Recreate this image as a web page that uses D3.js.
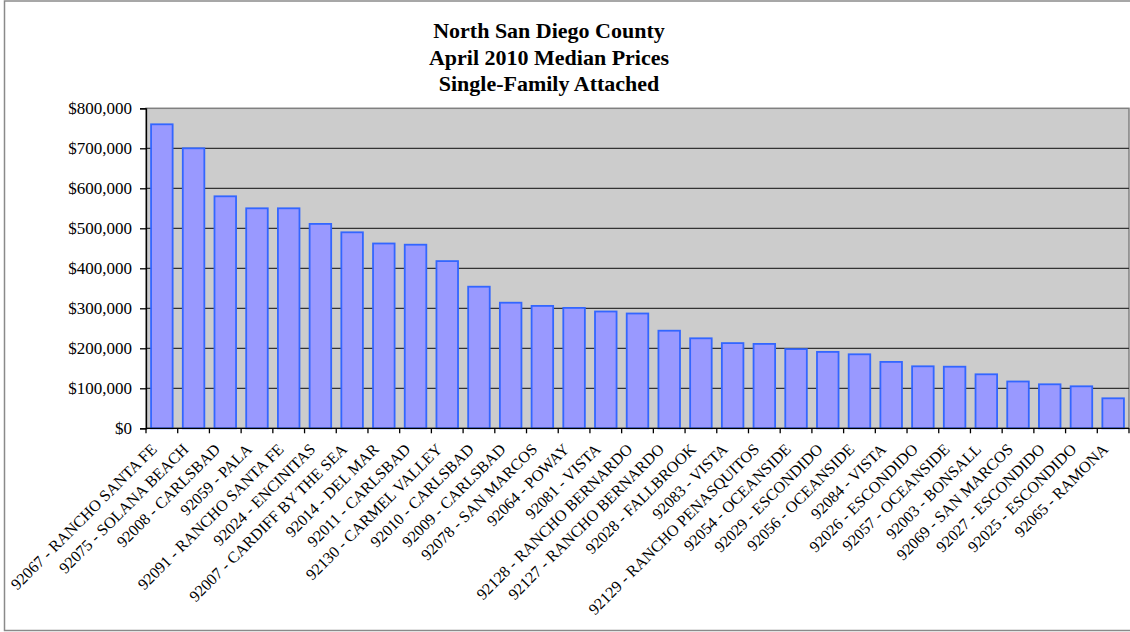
<!DOCTYPE html>
<html>
<head>
<meta charset="utf-8">
<script src="https://cdn.jsdelivr.net/npm/d3@7"></script>
<style>
  html, body { margin: 0; padding: 0; background: #ffffff; }
  svg { display: block; }
  svg text { font-family: "Liberation Serif", "Times New Roman", Times, "DejaVu Serif", serif !important; fill: #000; }
</style>
</head>
<body>
<svg id="chart" width="1130" height="632"></svg>
<script>
const titleLines = ["North San Diego County", "April 2010 Median Prices", "Single-Family Attached"];

const categories = [
  "92067 - RANCHO SANTA FE", "92075 - SOLANA BEACH", "92008 - CARLSBAD", "92059 - PALA",
  "92091 - RANCHO SANTA FE", "92024 - ENCINITAS", "92007 - CARDIFF BY THE SEA", "92014 - DEL MAR",
  "92011 - CARLSBAD", "92130 - CARMEL VALLEY", "92010 - CARLSBAD", "92009 - CARLSBAD",
  "92078 - SAN MARCOS", "92064 - POWAY", "92081 - VISTA", "92128 - RANCHO BERNARDO",
  "92127 - RANCHO BERNARDO", "92028 - FALLBROOK", "92083 - VISTA", "92129 - RANCHO PENASQUITOS",
  "92054 - OCEANSIDE", "92029 - ESCONDIDO", "92056 - OCEANSIDE", "92084 - VISTA",
  "92026 - ESCONDIDO", "92057 - OCEANSIDE", "92003 - BONSALL", "92069 - SAN MARCOS",
  "92027 - ESCONDIDO", "92025 - ESCONDIDO", "92065 - RAMONA"
];

const medianPrices = [
  760000, 700000, 580000, 550000,
  550000, 511000, 490000, 462000,
  459000, 418000, 354000, 314000,
  306000, 301000, 292000, 287000,
  244000, 225000, 213000, 211000,
  198000, 191000, 185000, 166000,
  155000, 154000, 135000, 117000,
  110000, 105000, 75000
];

const yTicks = [0, 100000, 200000, 300000, 400000, 500000, 600000, 700000, 800000];

const FONT = "'Liberation Serif', 'Times New Roman', Times, serif";
const svg = d3.select("#chart").attr("font-family", FONT);
const plot = { left: 146, right: 1129, top: 108.3, bottom: 428.3 };

// outer frame
svg.append("rect")
  .attr("x", 4.5).attr("y", 1).attr("width", 1140).attr("height", 629.5)
  .attr("fill", "#fff").attr("stroke", "#8a8a8a").attr("stroke-width", 1.5);

// title
const title = svg.append("g");
titleLines.forEach((t, i) => {
  title.append("text")
    .attr("x", 549).attr("y", 38 + i * 26.5)
    .attr("text-anchor", "middle")
    .attr("font-family", FONT)
    .attr("font-size", 22).attr("font-weight", "bold")
    .text(t);
});

const x = d3.scaleBand()
  .domain(categories)
  .range([plot.left, plot.right])
  .paddingInner(0.32)
  .paddingOuter(0.16);

const y = d3.scaleLinear()
  .domain([0, 800000])
  .range([plot.bottom, plot.top]);

// plot background
svg.append("rect")
  .attr("x", plot.left).attr("y", plot.top)
  .attr("width", plot.right - plot.left).attr("height", plot.bottom - plot.top)
  .attr("fill", "#cccccc").attr("stroke", "#808080").attr("stroke-width", 1.5);

// gridlines
svg.append("g")
  .selectAll("line")
  .data(yTicks.filter(v => v > 0 && v < 800000))
  .join("line")
  .attr("x1", plot.left).attr("x2", plot.right)
  .attr("y1", d => y(d)).attr("y2", d => y(d))
  .attr("stroke", "#333333").attr("stroke-width", 1.3);

// bars
svg.append("g")
  .selectAll("rect")
  .data(medianPrices)
  .join("rect")
  .attr("x", (d, i) => x(categories[i]))
  .attr("y", d => y(d))
  .attr("width", x.bandwidth())
  .attr("height", d => y(0) - y(d))
  .attr("fill", "#9999ff")
  .attr("stroke", "#3366ff")
  .attr("stroke-width", 1.8);

// y axis
const yAxis = d3.axisLeft(y)
  .tickValues(yTicks)
  .tickFormat(d3.format("$,"))
  .tickSize(6)
  .tickPadding(8);
const ya = svg.append("g").attr("transform", `translate(${plot.left},0)`).call(yAxis);
ya.attr("font-family", FONT).attr("font-size", 17);
ya.select(".domain").attr("stroke", "#000").attr("stroke-width", 1.3);
ya.selectAll(".tick line").attr("stroke", "#000").attr("stroke-width", 1.3);
ya.selectAll(".tick text")
  .attr("font-family", FONT)
  .attr("font-size", 17).attr("fill", "#000");

// x axis line
svg.append("line")
  .attr("x1", plot.left).attr("x2", plot.right)
  .attr("y1", plot.bottom).attr("y2", plot.bottom)
  .attr("stroke", "#000").attr("stroke-width", 1.3);

// x ticks at category boundaries
const step = x.step();
const boundaries = d3.range(categories.length + 1);
const bx = i => i < categories.length
  ? x(categories[i]) - step * 0.16
  : x(categories[i - 1]) + x.bandwidth() + step * 0.16;
svg.append("g")
  .selectAll("line")
  .data(boundaries)
  .join("line")
  .attr("x1", bx).attr("x2", bx)
  .attr("y1", plot.bottom).attr("y2", plot.bottom + 5)
  .attr("stroke", "#000").attr("stroke-width", 1.3);

// x labels
svg.append("g")
  .selectAll("text")
  .data(categories)
  .join("text")
  .attr("transform", d => `translate(${x(d) + x.bandwidth() / 2 - 8},${plot.bottom + 18}) rotate(-45)`)
  .attr("text-anchor", "end")
  .attr("dy", "0.35em")
  .attr("font-family", FONT)
  .attr("font-size", 16)
  .text(d => d);
</script>
</body>
</html>
